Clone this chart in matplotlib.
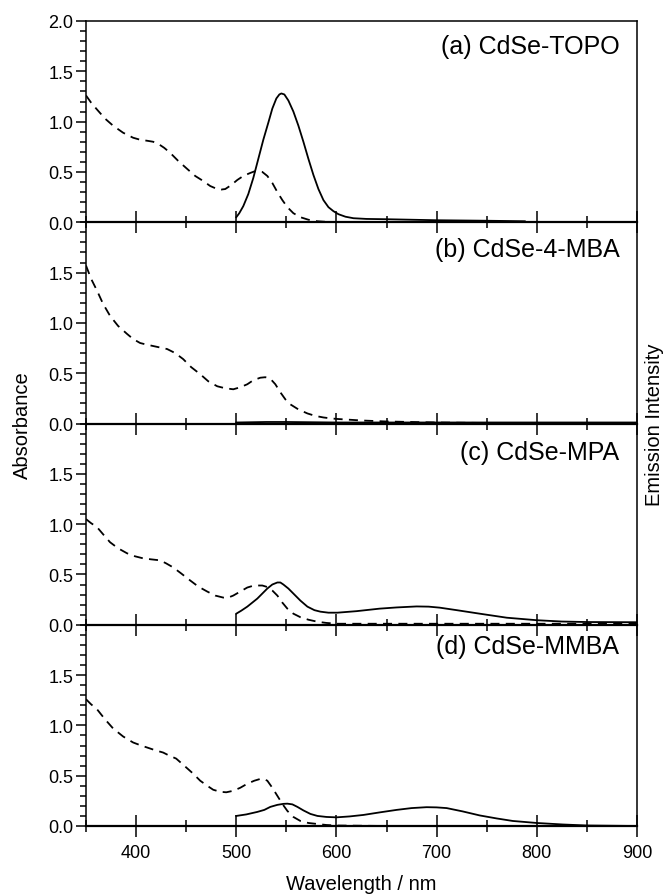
import matplotlib
matplotlib.use("Agg")
import matplotlib.pyplot as plt
from matplotlib.ticker import MultipleLocator

plt.rcParams['font.family'] = ['Liberation Sans', 'DejaVu Sans']

# ---------------- data ----------------
labels = ["(a) CdSe-TOPO", "(b) CdSe-4-MBA", "(c) CdSe-MPA", "(d) CdSe-MMBA"]

# absorbance (dashed)
abs_a_x = [350, 355, 361, 369, 377, 387, 397, 404, 411, 417, 422, 428, 434, 442, 451, 459, 467, 474, 481, 485, 489, 495, 501, 507, 514, 518, 521, 526, 531, 536, 541, 546, 551, 557, 564, 572, 581, 590, 600, 650, 700]
abs_a_y = [1.26, 1.19, 1.12, 1.03, 0.96, 0.89, 0.84, 0.82, 0.81, 0.80, 0.78, 0.74, 0.69, 0.61, 0.53, 0.46, 0.41, 0.36, 0.33, 0.325, 0.33, 0.37, 0.42, 0.46, 0.49, 0.505, 0.51, 0.50, 0.46, 0.39, 0.30, 0.22, 0.15, 0.09, 0.05, 0.025, 0.01, 0.004, 0.0, 0.0, 0.0]

abs_b_x = [350, 355, 361, 367, 374, 382, 391, 397, 404, 410, 417, 424, 431, 439, 447, 455, 464, 472, 481, 489, 497, 504, 511, 517, 524, 529, 534, 539, 544, 549, 554, 562, 571, 579, 587, 595, 601, 625, 650, 700, 750, 900]
abs_b_y = [1.57, 1.44, 1.32, 1.19, 1.07, 0.97, 0.89, 0.84, 0.80, 0.785, 0.77, 0.755, 0.74, 0.70, 0.64, 0.56, 0.49, 0.42, 0.37, 0.35, 0.34, 0.36, 0.39, 0.43, 0.455, 0.46, 0.445, 0.39, 0.31, 0.24, 0.19, 0.14, 0.10, 0.075, 0.06, 0.05, 0.045, 0.03, 0.02, 0.01, 0.005, 0.005]

abs_c_x = [350, 355, 361, 367, 374, 382, 391, 399, 407, 415, 424, 430, 437, 445, 454, 462, 471, 479, 487, 492, 497, 504, 511, 516, 521, 526, 531, 536, 541, 546, 551, 557, 564, 572, 581, 590, 601, 650, 700, 800, 900]
abs_c_y = [1.05, 1.01, 0.97, 0.90, 0.82, 0.76, 0.71, 0.68, 0.66, 0.65, 0.64, 0.61, 0.57, 0.51, 0.44, 0.38, 0.33, 0.29, 0.27, 0.27, 0.29, 0.33, 0.37, 0.385, 0.39, 0.39, 0.375, 0.34, 0.29, 0.22, 0.16, 0.11, 0.075, 0.05, 0.03, 0.018, 0.01, 0.01, 0.01, 0.01, 0.01]

abs_d_x = [350, 355, 361, 369, 377, 387, 397, 405, 414, 420, 427, 433, 440, 448, 457, 464, 471, 477, 484, 490, 497, 504, 511, 518, 524, 528, 531, 536, 541, 546, 551, 557, 564, 572, 581, 590, 600, 650]
abs_d_y = [1.26, 1.21, 1.16, 1.06, 0.97, 0.89, 0.83, 0.80, 0.77, 0.75, 0.73, 0.70, 0.67, 0.60, 0.52, 0.45, 0.40, 0.36, 0.34, 0.335, 0.35, 0.38, 0.42, 0.45, 0.468, 0.465, 0.45, 0.38, 0.30, 0.22, 0.15, 0.09, 0.05, 0.03, 0.02, 0.01, 0.005, 0.0]

# emission (solid)
em_a_x = [500, 503, 507, 512, 517, 522, 527, 532, 536, 540, 543, 545, 548, 552, 557, 562, 567, 572, 577, 582, 587, 592, 597, 602, 609, 617, 630, 650, 700, 750, 788]
em_a_y = [0.05, 0.09, 0.16, 0.28, 0.44, 0.63, 0.82, 0.99, 1.13, 1.23, 1.27, 1.28, 1.27, 1.21, 1.10, 0.96, 0.80, 0.63, 0.47, 0.33, 0.22, 0.15, 0.11, 0.08, 0.055, 0.04, 0.033, 0.03, 0.02, 0.015, 0.01]

em_b_x = [500, 530, 550, 600, 700, 800, 900]
em_b_y = [0.01, 0.015, 0.015, 0.01, 0.01, 0.01, 0.01]

em_c_x = [500, 505, 511, 516, 521, 526, 531, 536, 541, 544, 547, 552, 557, 564, 571, 578, 584, 592, 601, 620, 643, 660, 680, 692, 703, 720, 743, 770, 800, 825, 850, 900]
em_c_y = [0.11, 0.14, 0.18, 0.22, 0.26, 0.31, 0.36, 0.40, 0.42, 0.42, 0.40, 0.36, 0.31, 0.24, 0.18, 0.145, 0.13, 0.12, 0.12, 0.135, 0.16, 0.172, 0.182, 0.18, 0.17, 0.145, 0.11, 0.07, 0.045, 0.032, 0.027, 0.025]

em_d_x = [500, 510, 521, 528, 534, 541, 547, 551, 556, 561, 567, 574, 581, 590, 600, 613, 627, 643, 660, 675, 690, 700, 710, 726, 743, 760, 776, 800, 826, 850, 900]
em_d_y = [0.10, 0.115, 0.14, 0.16, 0.19, 0.21, 0.22, 0.222, 0.215, 0.19, 0.155, 0.12, 0.10, 0.09, 0.086, 0.095, 0.11, 0.135, 0.16, 0.178, 0.187, 0.185, 0.178, 0.145, 0.105, 0.075, 0.05, 0.03, 0.015, 0.005, 0.0]

abs_x = [abs_a_x, abs_b_x, abs_c_x, abs_d_x]
abs_y = [abs_a_y, abs_b_y, abs_c_y, abs_d_y]
em_x = [em_a_x, em_b_x, em_c_x, em_d_x]
em_y = [em_a_y, em_b_y, em_c_y, em_d_y]

x_ticks = [400, 500, 600, 700, 800, 900]
y_ticks_top = [0.0, 0.5, 1.0, 1.5, 2.0]
y_ticks = [0.0, 0.5, 1.0, 1.5]

# ---------------- figure ----------------
fig = plt.figure(figsize=(6.72, 8.95), dpi=100)
left, right = 86 / 672, 637 / 672
top, bottom = 1 - 22 / 895, 1 - 827 / 895
h = (top - bottom) / 4
label_pos = [0.876, 0.866, 0.856, 0.896]

axes = []
for i in range(4):
    ax = fig.add_axes([left, top - (i + 1) * h, right - left, h])
    axes.append(ax)
    ax.plot(abs_x[i], abs_y[i], color='black', lw=1.3, linestyle=(0, (5, 3.5)))
    ax.plot(em_x[i], em_y[i], color='black', lw=1.3, linestyle='-')
    ax.set_xlim(350, 900)
    ax.set_ylim(0, 2.0)
    ax.set_xticks(x_ticks)
    ax.xaxis.set_minor_locator(MultipleLocator(50))
    ax.set_yticks(y_ticks_top if i == 0 else y_ticks)
    ax.yaxis.set_minor_locator(MultipleLocator(0.1))
    ax.tick_params(axis='x', which='major', direction='inout', length=16, width=1.1,
                   top=False, labelbottom=(i == 3), labelsize=13, pad=5)
    ax.tick_params(axis='x', which='minor', direction='inout', length=8.5, width=1.1, top=False)
    ax.tick_params(axis='y', which='major', direction='out', length=7, width=1.1,
                   right=False, labelsize=13, pad=2)
    ax.tick_params(axis='y', which='minor', direction='out', length=4.3, width=1.1, right=False)
    ax.set_yticklabels(['%.1f' % v for v in (y_ticks_top if i == 0 else y_ticks)])
    for s in ax.spines.values():
        s.set_linewidth(1.1)
    ax.spines['bottom'].set_linewidth(1.6)
    ax.text(0.968, label_pos[i], labels[i], transform=ax.transAxes,
            ha='right', va='center', fontsize=18)
    ax.patch.set_alpha(0)

axes[3].set_xticklabels([str(v) for v in x_ticks])
fig.text(22 / 672, 1 - 425 / 895, "Absorbance", rotation=90, ha='center', va='center', fontsize=14.5)
fig.text(655 / 672, 1 - 425 / 895, "Emission Intensity", rotation=90, ha='center', va='center', fontsize=14.5)
fig.text((86 + 637) / 2 / 672, 1 - 885 / 895, "Wavelength / nm", ha='center', va='center', fontsize=14.5)

fig.savefig("out.png", dpi=100)
